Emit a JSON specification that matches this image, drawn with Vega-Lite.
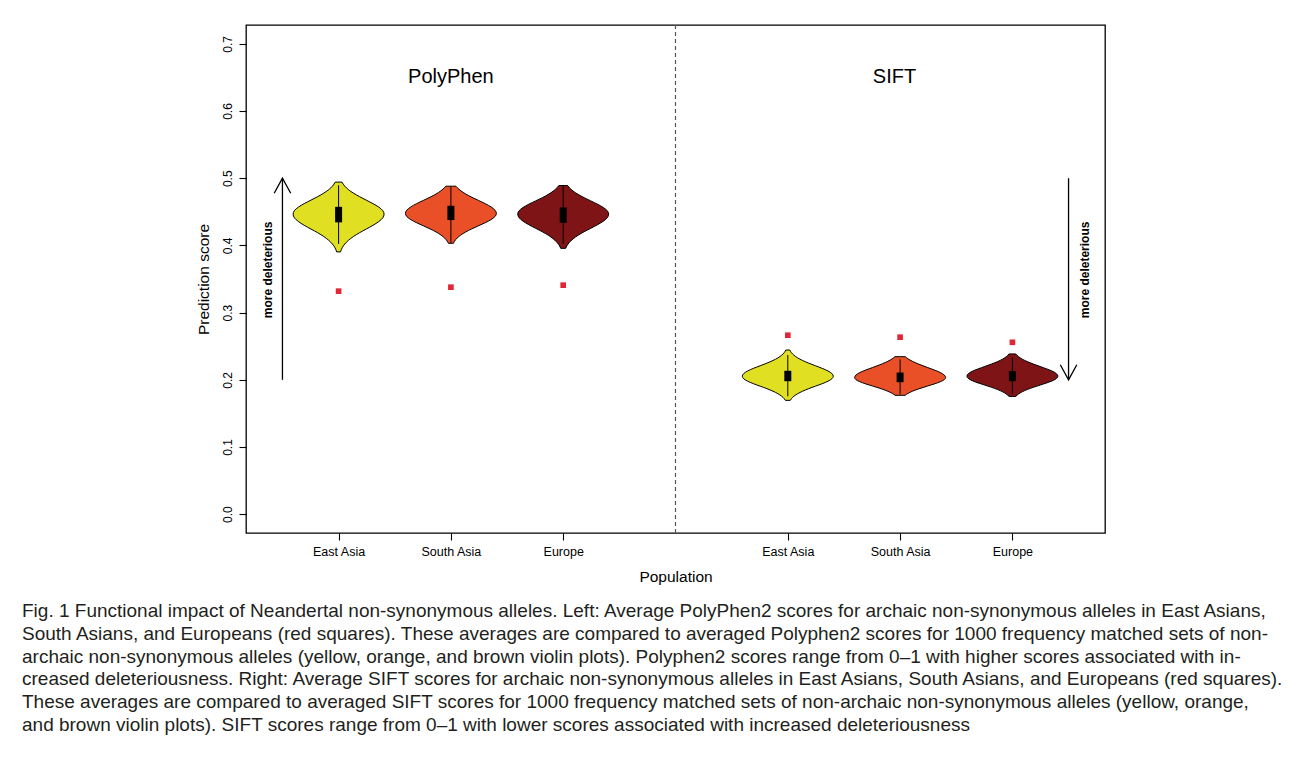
{
  "$schema": "https://vega.github.io/schema/vega-lite/v6.json",
  "width": 859,
  "height": 508,
  "autosize": {"type": "none"},
  "padding": {"left": 246, "top": 25, "right": 188, "bottom": 233},
  "background": "white",
  "config": {
    "view": {"stroke": "black", "strokeWidth": 1.3},
    "font": "Liberation Sans",
    "axis": {"domain": false, "grid": false, "tickColor": "black", "tickSize": 7, "tickWidth": 1.1, "labelColor": "black", "titleColor": "black", "labelFont": "Liberation Sans", "titleFont": "Liberation Sans", "titleFontWeight": "normal"},
    "axisX": {"labelFontSize": 12.5, "titleFontSize": 15.5, "labelPadding": 5, "titlePadding": 12},
    "axisY": {"labelFontSize": 12, "labelAngle": 270, "labelAlign": "center", "labelBaseline": "bottom", "titleFontSize": 15.5, "labelPadding": 5, "titlePadding": 10}
  },
  "title": {
    "text": [
      "Fig. 1 Functional impact of Neandertal non-synonymous alleles. Left: Average PolyPhen2 scores for archaic non-synonymous alleles in East Asians,",
      "South Asians, and Europeans (red squares). These averages are compared to averaged Polyphen2 scores for 1000 frequency matched sets of non-",
      "archaic non-synonymous alleles (yellow, orange, and brown violin plots). Polyphen2 scores range from 0–1 with higher scores associated with in-",
      "creased deleteriousness. Right: Average SIFT scores for archaic non-synonymous alleles in East Asians, South Asians, and Europeans (red squares).",
      "These averages are compared to averaged SIFT scores for 1000 frequency matched sets of non-archaic non-synonymous alleles (yellow, orange,",
      "and brown violin plots). SIFT scores range from 0–1 with lower scores associated with increased deleteriousness"
    ],
    "orient": "bottom",
    "anchor": "start",
    "frame": "group",
    "dx": -224,
    "offset": 17,
    "font": "Liberation Sans",
    "fontSize": 19,
    "fontWeight": "normal",
    "lineHeight": 22.8,
    "color": "#231f20",
    "limit": 1300
  },
  "datasets": {
    "divider": [{"pos": 4}],
    "violins": [
      {"id": "P1", "pop": "East Asia", "score": 0.4942, "lo": 0.970, "hi": 1.030},
      {"id": "P1", "pop": "East Asia", "score": 0.4881, "lo": 0.945, "hi": 1.055},
      {"id": "P1", "pop": "East Asia", "score": 0.4829, "lo": 0.912, "hi": 1.088},
      {"id": "P1", "pop": "East Asia", "score": 0.4778, "lo": 0.868, "hi": 1.132},
      {"id": "P1", "pop": "East Asia", "score": 0.4726, "lo": 0.814, "hi": 1.186},
      {"id": "P1", "pop": "East Asia", "score": 0.4674, "lo": 0.754, "hi": 1.246},
      {"id": "P1", "pop": "East Asia", "score": 0.4622, "lo": 0.694, "hi": 1.306},
      {"id": "P1", "pop": "East Asia", "score": 0.4570, "lo": 0.642, "hi": 1.358},
      {"id": "P1", "pop": "East Asia", "score": 0.4518, "lo": 0.607, "hi": 1.393},
      {"id": "P1", "pop": "East Asia", "score": 0.4466, "lo": 0.595, "hi": 1.405},
      {"id": "P1", "pop": "East Asia", "score": 0.4410, "lo": 0.607, "hi": 1.393},
      {"id": "P1", "pop": "East Asia", "score": 0.4355, "lo": 0.642, "hi": 1.358},
      {"id": "P1", "pop": "East Asia", "score": 0.4299, "lo": 0.694, "hi": 1.306},
      {"id": "P1", "pop": "East Asia", "score": 0.4243, "lo": 0.754, "hi": 1.246},
      {"id": "P1", "pop": "East Asia", "score": 0.4188, "lo": 0.814, "hi": 1.186},
      {"id": "P1", "pop": "East Asia", "score": 0.4132, "lo": 0.868, "hi": 1.132},
      {"id": "P1", "pop": "East Asia", "score": 0.4076, "lo": 0.912, "hi": 1.088},
      {"id": "P1", "pop": "East Asia", "score": 0.4021, "lo": 0.945, "hi": 1.055},
      {"id": "P1", "pop": "East Asia", "score": 0.3965, "lo": 0.968, "hi": 1.032},
      {"id": "P1", "pop": "East Asia", "score": 0.3903, "lo": 0.983, "hi": 1.017},

      {"id": "P2", "pop": "South Asia", "score": 0.4881, "lo": 1.955, "hi": 2.045},
      {"id": "P2", "pop": "South Asia", "score": 0.4862, "lo": 1.945, "hi": 2.055},
      {"id": "P2", "pop": "South Asia", "score": 0.4814, "lo": 1.912, "hi": 2.088},
      {"id": "P2", "pop": "South Asia", "score": 0.4765, "lo": 1.868, "hi": 2.132},
      {"id": "P2", "pop": "South Asia", "score": 0.4717, "lo": 1.814, "hi": 2.186},
      {"id": "P2", "pop": "South Asia", "score": 0.4669, "lo": 1.754, "hi": 2.246},
      {"id": "P2", "pop": "South Asia", "score": 0.4621, "lo": 1.694, "hi": 2.306},
      {"id": "P2", "pop": "South Asia", "score": 0.4572, "lo": 1.642, "hi": 2.358},
      {"id": "P2", "pop": "South Asia", "score": 0.4524, "lo": 1.607, "hi": 2.393},
      {"id": "P2", "pop": "South Asia", "score": 0.4476, "lo": 1.595, "hi": 2.405},
      {"id": "P2", "pop": "South Asia", "score": 0.4430, "lo": 1.607, "hi": 2.393},
      {"id": "P2", "pop": "South Asia", "score": 0.4384, "lo": 1.642, "hi": 2.358},
      {"id": "P2", "pop": "South Asia", "score": 0.4338, "lo": 1.694, "hi": 2.306},
      {"id": "P2", "pop": "South Asia", "score": 0.4292, "lo": 1.754, "hi": 2.246},
      {"id": "P2", "pop": "South Asia", "score": 0.4246, "lo": 1.814, "hi": 2.186},
      {"id": "P2", "pop": "South Asia", "score": 0.4200, "lo": 1.868, "hi": 2.132},
      {"id": "P2", "pop": "South Asia", "score": 0.4154, "lo": 1.912, "hi": 2.088},
      {"id": "P2", "pop": "South Asia", "score": 0.4108, "lo": 1.945, "hi": 2.055},
      {"id": "P2", "pop": "South Asia", "score": 0.4062, "lo": 1.968, "hi": 2.032},
      {"id": "P2", "pop": "South Asia", "score": 0.4031, "lo": 1.978, "hi": 2.022},

      {"id": "P3", "pop": "Europe", "score": 0.4891, "lo": 2.961, "hi": 3.039},
      {"id": "P3", "pop": "Europe", "score": 0.4858, "lo": 2.945, "hi": 3.055},
      {"id": "P3", "pop": "Europe", "score": 0.4809, "lo": 2.912, "hi": 3.088},
      {"id": "P3", "pop": "Europe", "score": 0.4760, "lo": 2.868, "hi": 3.132},
      {"id": "P3", "pop": "Europe", "score": 0.4711, "lo": 2.814, "hi": 3.186},
      {"id": "P3", "pop": "Europe", "score": 0.4662, "lo": 2.754, "hi": 3.246},
      {"id": "P3", "pop": "Europe", "score": 0.4613, "lo": 2.694, "hi": 3.306},
      {"id": "P3", "pop": "Europe", "score": 0.4564, "lo": 2.642, "hi": 3.358},
      {"id": "P3", "pop": "Europe", "score": 0.4515, "lo": 2.607, "hi": 3.393},
      {"id": "P3", "pop": "Europe", "score": 0.4466, "lo": 2.595, "hi": 3.405},
      {"id": "P3", "pop": "Europe", "score": 0.4413, "lo": 2.607, "hi": 3.393},
      {"id": "P3", "pop": "Europe", "score": 0.4361, "lo": 2.642, "hi": 3.358},
      {"id": "P3", "pop": "Europe", "score": 0.4308, "lo": 2.694, "hi": 3.306},
      {"id": "P3", "pop": "Europe", "score": 0.4255, "lo": 2.754, "hi": 3.246},
      {"id": "P3", "pop": "Europe", "score": 0.4203, "lo": 2.814, "hi": 3.186},
      {"id": "P3", "pop": "Europe", "score": 0.4150, "lo": 2.868, "hi": 3.132},
      {"id": "P3", "pop": "Europe", "score": 0.4097, "lo": 2.912, "hi": 3.088},
      {"id": "P3", "pop": "Europe", "score": 0.4045, "lo": 2.945, "hi": 3.055},
      {"id": "P3", "pop": "Europe", "score": 0.3992, "lo": 2.968, "hi": 3.032},
      {"id": "P3", "pop": "Europe", "score": 0.3956, "lo": 2.978, "hi": 3.022},

      {"id": "S1", "pop": "East Asia", "score": 0.2443, "lo": 4.982, "hi": 5.018},
      {"id": "S1", "pop": "East Asia", "score": 0.2404, "lo": 4.968, "hi": 5.032},
      {"id": "S1", "pop": "East Asia", "score": 0.2365, "lo": 4.945, "hi": 5.055},
      {"id": "S1", "pop": "East Asia", "score": 0.2326, "lo": 4.912, "hi": 5.088},
      {"id": "S1", "pop": "East Asia", "score": 0.2287, "lo": 4.868, "hi": 5.132},
      {"id": "S1", "pop": "East Asia", "score": 0.2248, "lo": 4.814, "hi": 5.186},
      {"id": "S1", "pop": "East Asia", "score": 0.2209, "lo": 4.754, "hi": 5.246},
      {"id": "S1", "pop": "East Asia", "score": 0.2170, "lo": 4.694, "hi": 5.306},
      {"id": "S1", "pop": "East Asia", "score": 0.2131, "lo": 4.642, "hi": 5.358},
      {"id": "S1", "pop": "East Asia", "score": 0.2092, "lo": 4.607, "hi": 5.393},
      {"id": "S1", "pop": "East Asia", "score": 0.2053, "lo": 4.595, "hi": 5.405},
      {"id": "S1", "pop": "East Asia", "score": 0.2016, "lo": 4.607, "hi": 5.393},
      {"id": "S1", "pop": "East Asia", "score": 0.1979, "lo": 4.642, "hi": 5.358},
      {"id": "S1", "pop": "East Asia", "score": 0.1942, "lo": 4.694, "hi": 5.306},
      {"id": "S1", "pop": "East Asia", "score": 0.1905, "lo": 4.754, "hi": 5.246},
      {"id": "S1", "pop": "East Asia", "score": 0.1868, "lo": 4.814, "hi": 5.186},
      {"id": "S1", "pop": "East Asia", "score": 0.1830, "lo": 4.868, "hi": 5.132},
      {"id": "S1", "pop": "East Asia", "score": 0.1793, "lo": 4.912, "hi": 5.088},
      {"id": "S1", "pop": "East Asia", "score": 0.1756, "lo": 4.945, "hi": 5.055},
      {"id": "S1", "pop": "East Asia", "score": 0.1719, "lo": 4.968, "hi": 5.032},
      {"id": "S1", "pop": "East Asia", "score": 0.1694, "lo": 4.978, "hi": 5.022},

      {"id": "S2", "pop": "South Asia", "score": 0.2344, "lo": 5.954, "hi": 6.046},
      {"id": "S2", "pop": "South Asia", "score": 0.2331, "lo": 5.945, "hi": 6.055},
      {"id": "S2", "pop": "South Asia", "score": 0.2294, "lo": 5.912, "hi": 6.088},
      {"id": "S2", "pop": "South Asia", "score": 0.2257, "lo": 5.868, "hi": 6.132},
      {"id": "S2", "pop": "South Asia", "score": 0.2220, "lo": 5.814, "hi": 6.186},
      {"id": "S2", "pop": "South Asia", "score": 0.2182, "lo": 5.754, "hi": 6.246},
      {"id": "S2", "pop": "South Asia", "score": 0.2145, "lo": 5.694, "hi": 6.306},
      {"id": "S2", "pop": "South Asia", "score": 0.2108, "lo": 5.642, "hi": 6.358},
      {"id": "S2", "pop": "South Asia", "score": 0.2071, "lo": 5.607, "hi": 6.393},
      {"id": "S2", "pop": "South Asia", "score": 0.2034, "lo": 5.595, "hi": 6.405},
      {"id": "S2", "pop": "South Asia", "score": 0.2002, "lo": 5.607, "hi": 6.393},
      {"id": "S2", "pop": "South Asia", "score": 0.1971, "lo": 5.642, "hi": 6.358},
      {"id": "S2", "pop": "South Asia", "score": 0.1939, "lo": 5.694, "hi": 6.306},
      {"id": "S2", "pop": "South Asia", "score": 0.1908, "lo": 5.754, "hi": 6.246},
      {"id": "S2", "pop": "South Asia", "score": 0.1876, "lo": 5.814, "hi": 6.186},
      {"id": "S2", "pop": "South Asia", "score": 0.1845, "lo": 5.868, "hi": 6.132},
      {"id": "S2", "pop": "South Asia", "score": 0.1813, "lo": 5.912, "hi": 6.088},
      {"id": "S2", "pop": "South Asia", "score": 0.1782, "lo": 5.945, "hi": 6.055},
      {"id": "S2", "pop": "South Asia", "score": 0.1769, "lo": 5.955, "hi": 6.045},

      {"id": "S3", "pop": "Europe", "score": 0.2385, "lo": 6.970, "hi": 7.030},
      {"id": "S3", "pop": "Europe", "score": 0.2344, "lo": 6.945, "hi": 7.055},
      {"id": "S3", "pop": "Europe", "score": 0.2307, "lo": 6.912, "hi": 7.088},
      {"id": "S3", "pop": "Europe", "score": 0.2271, "lo": 6.868, "hi": 7.132},
      {"id": "S3", "pop": "Europe", "score": 0.2235, "lo": 6.814, "hi": 7.186},
      {"id": "S3", "pop": "Europe", "score": 0.2198, "lo": 6.754, "hi": 7.246},
      {"id": "S3", "pop": "Europe", "score": 0.2162, "lo": 6.694, "hi": 7.306},
      {"id": "S3", "pop": "Europe", "score": 0.2126, "lo": 6.642, "hi": 7.358},
      {"id": "S3", "pop": "Europe", "score": 0.2089, "lo": 6.607, "hi": 7.393},
      {"id": "S3", "pop": "Europe", "score": 0.2053, "lo": 6.595, "hi": 7.405},
      {"id": "S3", "pop": "Europe", "score": 0.2020, "lo": 6.607, "hi": 7.393},
      {"id": "S3", "pop": "Europe", "score": 0.1987, "lo": 6.642, "hi": 7.358},
      {"id": "S3", "pop": "Europe", "score": 0.1954, "lo": 6.694, "hi": 7.306},
      {"id": "S3", "pop": "Europe", "score": 0.1921, "lo": 6.754, "hi": 7.246},
      {"id": "S3", "pop": "Europe", "score": 0.1888, "lo": 6.814, "hi": 7.186},
      {"id": "S3", "pop": "Europe", "score": 0.1855, "lo": 6.868, "hi": 7.132},
      {"id": "S3", "pop": "Europe", "score": 0.1822, "lo": 6.912, "hi": 7.088},
      {"id": "S3", "pop": "Europe", "score": 0.1789, "lo": 6.945, "hi": 7.055},
      {"id": "S3", "pop": "Europe", "score": 0.1753, "lo": 6.970, "hi": 7.030}
    ],
    "boxes": [
      {"id": "P1", "pos": 1, "wlo": 0.4021, "whi": 0.4896, "q1": 0.4343, "q3": 0.4574},
      {"id": "P2", "pos": 2, "wlo": 0.4040, "whi": 0.4871, "q1": 0.4377, "q3": 0.4590},
      {"id": "P3", "pos": 3, "wlo": 0.4021, "whi": 0.4886, "q1": 0.4337, "q3": 0.4565},
      {"id": "S1", "pos": 5, "wlo": 0.1754, "whi": 0.2368, "q1": 0.1979, "q3": 0.2134},
      {"id": "S2", "pos": 6, "wlo": 0.1785, "whi": 0.2304, "q1": 0.1964, "q3": 0.2108},
      {"id": "S3", "pos": 7, "wlo": 0.1785, "whi": 0.2334, "q1": 0.1979, "q3": 0.2129}
    ],
    "archaic": [
      {"pos": 1, "score": 0.3319},
      {"pos": 2, "score": 0.3378},
      {"pos": 3, "score": 0.3408},
      {"pos": 5, "score": 0.2663},
      {"pos": 6, "score": 0.2634},
      {"pos": 7, "score": 0.2558}
    ],
    "arrows": [
      {"pos": 0.5, "from": 0.2, "to": 0.5, "tip": 0.5, "dir": "up"},
      {"pos": 7.5, "from": 0.2, "to": 0.5, "tip": 0.2, "dir": "down"}
    ],
    "notes": [
      {"pos": 0.37, "score": 0.3635, "label": "more deleterious"},
      {"pos": 7.65, "score": 0.3635, "label": "more deleterious"}
    ],
    "panels": [
      {"pos": 2, "score": 0.651, "label": "PolyPhen"},
      {"pos": 5.95, "score": 0.651, "label": "SIFT"}
    ]
  },
  "layer": [
    {
      "data": {"name": "divider"},
      "mark": {"type": "rule", "strokeDash": [4, 3], "color": "#555555", "strokeWidth": 1.2},
      "encoding": {
        "x": {"field": "pos", "type": "quantitative", "scale": {"domain": [0.22, 7.78], "nice": false, "zero": false},
          "axis": {"values": [1, 2, 3, 5, 6, 7], "labelExpr": "datum.value == 1 || datum.value == 5 ? 'East Asia' : (datum.value == 2 || datum.value == 6 ? 'South Asia' : 'Europe')", "title": "Population"}}
      }
    },
    {
      "data": {"name": "violins"},
      "mark": {"type": "area", "orient": "horizontal", "interpolate": "monotone", "stroke": "black", "strokeWidth": 1, "opacity": 1, "fillOpacity": 1},
      "encoding": {
        "y": {"field": "score", "type": "quantitative", "scale": {"domain": [-0.028, 0.728], "nice": false, "zero": false},
          "axis": {"values": [0, 0.1, 0.2, 0.3, 0.4, 0.5, 0.6, 0.7], "format": ".1f", "title": "Prediction score"}},
        "x": {"field": "lo", "type": "quantitative", "title": "Population"},
        "x2": {"field": "hi"},
        "color": {"field": "pop", "type": "nominal", "scale": {"domain": ["East Asia", "South Asia", "Europe"], "range": ["#E1DF22", "#EA5027", "#7E1416"]}, "legend": null},
        "detail": {"field": "id", "type": "nominal"}
      }
    },
    {
      "data": {"name": "boxes"},
      "mark": {"type": "rule", "color": "black", "strokeWidth": 1},
      "encoding": {
        "x": {"field": "pos", "type": "quantitative", "title": "Population"},
        "y": {"field": "wlo", "type": "quantitative", "title": "Prediction score"},
        "y2": {"field": "whi"}
      }
    },
    {
      "data": {"name": "boxes"},
      "mark": {"type": "bar", "size": 7, "color": "black"},
      "encoding": {
        "x": {"field": "pos", "type": "quantitative", "title": "Population"},
        "y": {"field": "q1", "type": "quantitative", "title": "Prediction score"},
        "y2": {"field": "q3"}
      }
    },
    {
      "data": {"name": "archaic"},
      "mark": {"type": "point", "shape": "square", "filled": true, "color": "#E32636", "size": 32, "opacity": 1, "strokeWidth": 0},
      "encoding": {
        "x": {"field": "pos", "type": "quantitative", "title": "Population"},
        "y": {"field": "score", "type": "quantitative", "title": "Prediction score"}
      }
    },
    {
      "data": {"name": "arrows"},
      "mark": {"type": "rule", "color": "black", "strokeWidth": 1.3},
      "encoding": {
        "x": {"field": "pos", "type": "quantitative", "title": "Population"},
        "y": {"field": "from", "type": "quantitative", "title": "Prediction score"},
        "y2": {"field": "to"}
      }
    },
    {
      "data": {"name": "arrows"},
      "mark": {"type": "point", "filled": false, "color": "black", "strokeWidth": 1.3, "size": 900, "opacity": 1},
      "encoding": {
        "x": {"field": "pos", "type": "quantitative", "title": "Population"},
        "y": {"field": "tip", "type": "quantitative", "title": "Prediction score"},
        "shape": {"field": "dir", "type": "nominal", "scale": {"domain": ["up", "down"], "range": ["M-0.55,1L0,0L0.55,1", "M-0.55,-1L0,0L0.55,-1"]}, "legend": null}
      }
    },
    {
      "data": {"name": "notes"},
      "mark": {"type": "text", "angle": 270, "fontWeight": "bold", "fontSize": 12, "font": "Liberation Sans", "color": "black", "align": "center", "baseline": "middle"},
      "encoding": {
        "x": {"field": "pos", "type": "quantitative", "title": "Population"},
        "y": {"field": "score", "type": "quantitative", "title": "Prediction score"},
        "text": {"field": "label"}
      }
    },
    {
      "data": {"name": "panels"},
      "mark": {"type": "text", "fontSize": 20, "font": "Liberation Sans", "color": "black", "align": "center", "baseline": "middle"},
      "encoding": {
        "x": {"field": "pos", "type": "quantitative", "title": "Population"},
        "y": {"field": "score", "type": "quantitative", "title": "Prediction score"},
        "text": {"field": "label"}
      }
    }
  ]
}
